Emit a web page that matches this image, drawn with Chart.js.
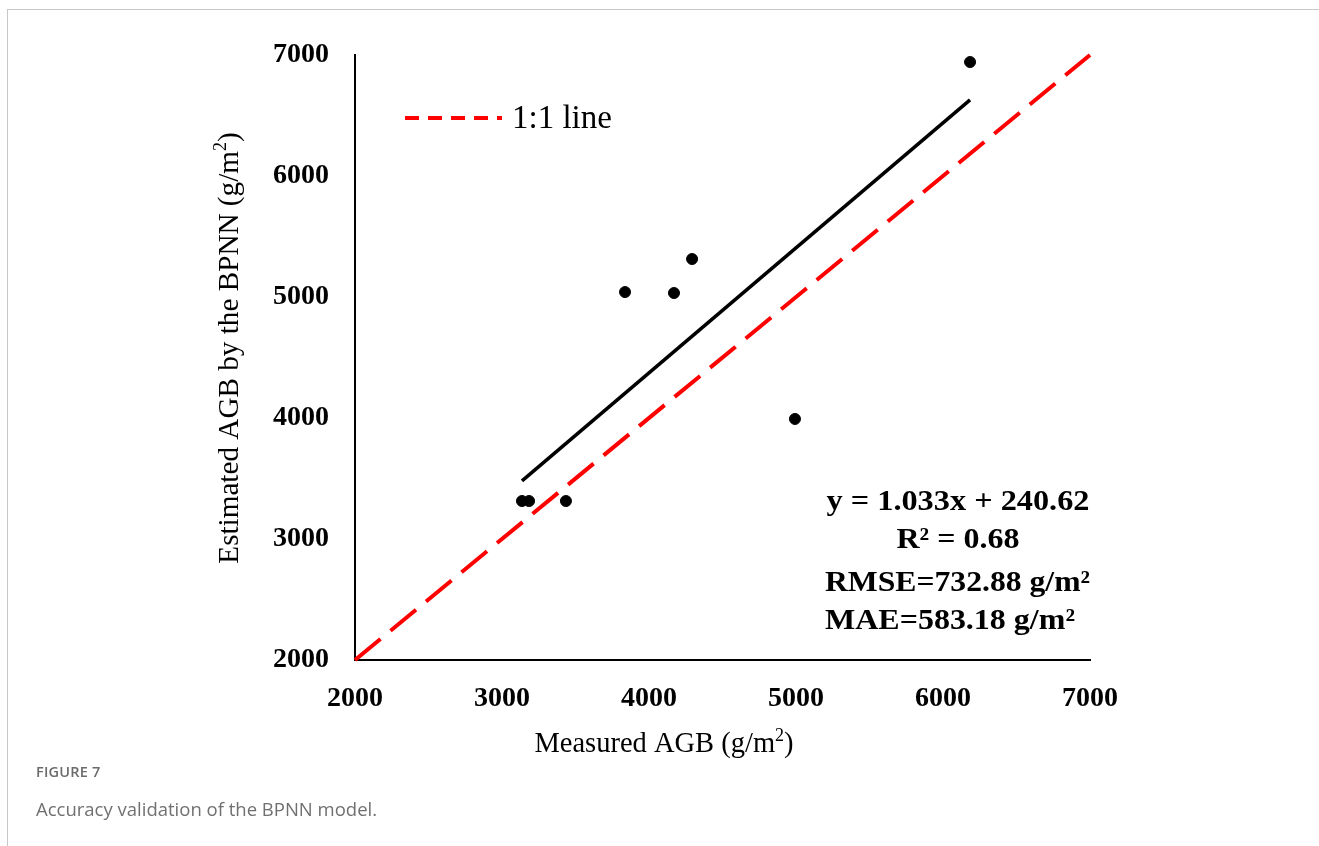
<!DOCTYPE html>
<html>
<head>
<meta charset="utf-8">
<script src="https://cdn.jsdelivr.net/npm/chart.js@4.4.1/dist/chart.umd.min.js"></script>
<style>
  html, body { margin: 0; padding: 0; background: #fff; }
  #wrap { position: relative; width: 1319px; height: 846px; overflow: hidden; }
  #frameTop { position: absolute; left: 7px; top: 9px; width: 1312px; height: 1px; background: #c8c8c8; }
  #frameLeft { position: absolute; left: 7px; top: 9px; width: 1px; height: 837px; background: #c8c8c8; }
  #cap1 { position: absolute; left: 36px; top: 762px; font-family: "Open Sans", sans-serif; font-weight: 600; font-size: 14.5px; color: #6b6b6b; letter-spacing: 0.2px; }
  #cap2 { position: absolute; left: 36px; top: 796px; font-family: "Open Sans", sans-serif; font-size: 18.5px; color: #707070; }
  canvas { position: absolute; left: 0; top: 0; }
</style>
</head>
<body>
<div id="wrap">
  <canvas id="c" width="1319" height="846"></canvas>
  <div id="frameTop"></div>
  <div id="frameLeft"></div>
  <div id="cap1">FIGURE 7</div>
  <div id="cap2">Accuracy validation of the BPNN model.</div>
</div>
<script>
// ---- data ----
const measured  = [3136, 3184, 3435, 3837, 4170, 4293, 4993, 6184];
const estimated = [3314, 3314, 3314, 5041, 5033, 5314, 3992, 6942];
const fitSlope = 1.033;
const fitIntercept = 240.62;
const oneToOne = [2000, 7000];
const axisTicks = [2000, 3000, 4000, 5000, 6000, 7000];
const statLines = ["y = 1.033x + 240.62", "R² = 0.68", "RMSE=732.88 g/m²", "MAE=583.18 g/m²"];
const xTitle = ["Measured AGB (g/m", "2", ")"];
const yTitle = ["Estimated AGB by the BPNN (g/m", "2", ")"];
const legendLabel = "1:1 line";

const points = measured.map((x, i) => ({x: x, y: estimated[i]}));
const xMin = Math.min(...measured), xMax = Math.max(...measured);
const fitLine = [xMin, xMax].map(x => ({x: x, y: fitSlope * x + fitIntercept}));
const idLine = oneToOne.map(v => ({x: v, y: v}));

const SERIF = "'Liberation Serif', 'Times New Roman', serif";

function drawSupText(ctx, parts, size, x, y, align) {
  ctx.font = size + "px " + SERIF;
  const w0 = ctx.measureText(parts[0]).width;
  ctx.font = Math.round(size * 0.62) + "px " + SERIF;
  const w1 = ctx.measureText(parts[1]).width;
  ctx.font = size + "px " + SERIF;
  const w2 = ctx.measureText(parts[2]).width;
  const total = w0 + w1 + w2;
  let sx = align === 'center' ? x - total / 2 : x;
  ctx.textAlign = 'left';
  ctx.textBaseline = 'middle';
  ctx.fillText(parts[0], sx, y);
  ctx.font = Math.round(size * 0.62) + "px " + SERIF;
  ctx.fillText(parts[1], sx + w0, y - size * 0.3);
  ctx.font = size + "px " + SERIF;
  ctx.fillText(parts[2], sx + w0 + w1, y);
}

function fitText(ctx, text, x, y, width, align) {
  const w = ctx.measureText(text).width;
  const s = width / w;
  ctx.save();
  ctx.translate(x, y);
  ctx.scale(s, 1);
  ctx.textAlign = align;
  ctx.textBaseline = 'middle';
  ctx.fillText(text, 0, 0);
  ctx.restore();
}

const extras = {
  id: 'extras',
  afterDraw(chart) {
    const ctx = chart.ctx;
    ctx.save();
    ctx.fillStyle = '#000';
    // axis titles
    drawSupText(ctx, xTitle, 28.5, 664, 745, 'center');
    ctx.save();
    ctx.translate(230, 348);
    ctx.rotate(-Math.PI / 2);
    drawSupText(ctx, yTitle, 29.2, 0, 0, 'center');
    ctx.restore();

    // legend
    ctx.strokeStyle = '#ff0000';
    ctx.lineWidth = 4;
    ctx.setLineDash([14, 9]);
    ctx.beginPath();
    ctx.moveTo(405, 118);
    ctx.lineTo(502, 118);
    ctx.stroke();
    ctx.setLineDash([]);
    ctx.font = "33px " + SERIF;
    ctx.textAlign = 'left';
    ctx.textBaseline = 'middle';
    ctx.fillText(legendLabel, 512, 119);

    // stats
    ctx.font = "bold 30px " + SERIF;
    fitText(ctx, statLines[0], 958, 502, 263, 'center');
    fitText(ctx, statLines[1], 958, 540, 123, 'center');
    fitText(ctx, statLines[2], 825, 583, 265, 'left');
    fitText(ctx, statLines[3], 825, 621, 250, 'left');
    ctx.restore();
  }
};

new Chart(document.getElementById('c'), {
  type: 'scatter',
  data: {
    datasets: [
      {
        label: 'points',
        data: points,
        backgroundColor: '#000',
        borderColor: '#000',
        pointRadius: 5.5,
        pointHoverRadius: 5.5,
        order: 1
      },
      {
        label: 'fit',
        type: 'line',
        data: fitLine,
        borderColor: '#000',
        borderWidth: 3.5,
        pointRadius: 0,
        fill: false,
        order: 2
      },
      {
        label: legendLabel,
        type: 'line',
        data: idLine,
        borderColor: '#ff0000',
        borderWidth: 4,
        borderDash: [33, 13],
        pointRadius: 0,
        fill: false,
        clip: false,
        order: 3
      }
    ]
  },
  options: {
    responsive: false,
    animation: false,
    devicePixelRatio: 1,
    layout: { padding: { left: 0, top: 55, right: 229, bottom: 0 } },
    plugins: { legend: { display: false }, tooltip: { enabled: false } },
    scales: {
      x: {
        type: 'linear',
        min: 2000, max: 7000,
        afterFit: (s) => { s.height = 186; },
        afterBuildTicks: (s) => { s.ticks = axisTicks.map(v => ({value: v})); },
        grid: { display: false, drawTicks: false },
        border: { display: true, color: '#000', width: 2 },
        ticks: { color: '#000', padding: 22, callback: (v) => String(v), font: { family: SERIF, size: 28, weight: 'bold' } }
      },
      y: {
        type: 'linear',
        min: 2000, max: 7000,
        afterFit: (s) => { s.width = 355; },
        afterBuildTicks: (s) => { s.ticks = axisTicks.map(v => ({value: v})); },
        grid: { display: false, drawTicks: false },
        border: { display: true, color: '#000', width: 2 },
        ticks: { color: '#000', padding: 26, callback: (v) => String(v), font: { family: SERIF, size: 28, weight: 'bold' } }
      }
    }
  },
  plugins: [extras]
});
</script>
</body>
</html>
